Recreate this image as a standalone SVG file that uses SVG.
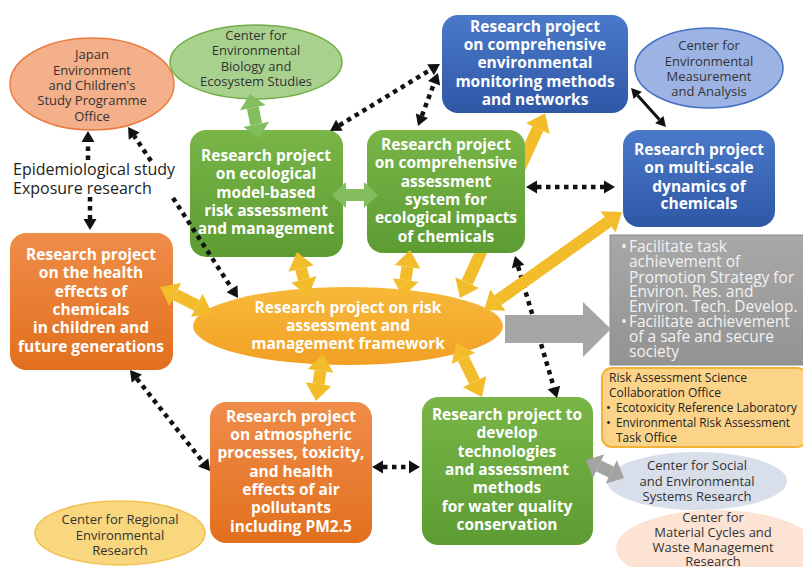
<svg xmlns="http://www.w3.org/2000/svg" width="803" height="567" viewBox="0 0 803 567">
<style>
.bt{fill:#fff;font-family:"Open Sans","Liberation Sans",sans-serif;font-weight:bold;font-size:15.5px;text-anchor:middle}
.et{fill:#333;font-family:"Open Sans","Liberation Sans",sans-serif;font-size:13px;text-anchor:middle}
.gt{fill:#f2f2f2;font-family:"Open Sans","Liberation Sans",sans-serif;font-size:15.5px}
.rt{fill:#222;font-family:"Open Sans","Liberation Sans",sans-serif;font-size:13px}
.lt{fill:#222;font-family:"Open Sans","Liberation Sans",sans-serif;font-size:16px}
.ya{stroke:#F3BC2B;stroke-width:12;fill:none;marker-start:url(#mY);marker-end:url(#mY)}
.ga{stroke:#83BD5E;stroke-width:12;fill:none;marker-start:url(#mG);marker-end:url(#mG)}
.gra{stroke:#A3A3A3;stroke-width:12;fill:none;marker-start:url(#mGr);marker-end:url(#mGr)}
.da{stroke:#111;stroke-width:4.5;stroke-dasharray:4.5 4.5;fill:none}
.d2{marker-start:url(#mD);marker-end:url(#mD)}
.d1{marker-end:url(#mD)}
</style>
<defs>
<linearGradient id="gGreen" x1="0" y1="0" x2="0" y2="1"><stop offset="0" stop-color="#79B547"/><stop offset="1" stop-color="#5D9C33"/></linearGradient>
<linearGradient id="gBlue" x1="0" y1="0" x2="0" y2="1"><stop offset="0" stop-color="#4B79C9"/><stop offset="1" stop-color="#2E58A6"/></linearGradient>
<linearGradient id="gOrange" x1="0" y1="0" x2="0" y2="1"><stop offset="0" stop-color="#EF8D49"/><stop offset="1" stop-color="#E26F1E"/></linearGradient>
<linearGradient id="gCentre" x1="0" y1="0" x2="0" y2="1"><stop offset="0" stop-color="#F7B93A"/><stop offset="1" stop-color="#F2A025"/></linearGradient>
<linearGradient id="gGray" x1="0" y1="0" x2="0" y2="1"><stop offset="0" stop-color="#A8A8A8"/><stop offset="1" stop-color="#939393"/></linearGradient>
<marker id="mY" markerUnits="userSpaceOnUse" markerWidth="40" markerHeight="40" refX="0" refY="0" viewBox="-20 -20 40 40" orient="auto-start-reverse" overflow="visible"><path d="M0,-13 L17,0 L0,13 Z" fill="#F3BC2B"/></marker>
<marker id="mG" markerUnits="userSpaceOnUse" markerWidth="40" markerHeight="40" refX="0" refY="0" viewBox="-20 -20 40 40" orient="auto-start-reverse" overflow="visible"><path d="M0,-13 L14,0 L0,13 Z" fill="#83BD5E"/></marker>
<marker id="mGr" markerUnits="userSpaceOnUse" markerWidth="40" markerHeight="40" refX="0" refY="0" viewBox="-20 -20 40 40" orient="auto-start-reverse" overflow="visible"><path d="M0,-13 L14,0 L0,13 Z" fill="#A3A3A3"/></marker>
<marker id="mB" markerUnits="userSpaceOnUse" markerWidth="30" markerHeight="30" refX="0" refY="0" viewBox="-15 -15 30 30" orient="auto-start-reverse" overflow="visible"><path d="M0,-5.5 L10,0 L0,5.5 Z" fill="#111"/></marker>
<marker id="mD" markerUnits="userSpaceOnUse" markerWidth="30" markerHeight="30" refX="0" refY="0" viewBox="-15 -15 30 30" orient="auto-start-reverse" overflow="visible"><path d="M0,-6.5 L11,0 L0,6.5 Z" fill="#111"/></marker>
<clipPath id="noAssess"><path clip-rule="evenodd" d="M0,0H803V567H0Z M383,130H509a16,16 0 0 1 16,16V237a16,16 0 0 1 -16,16H383a16,16 0 0 1 -16,-16V146a16,16 0 0 1 16,-16Z"/></clipPath>
</defs>
<rect width="803" height="567" fill="#fff"/>

<g id="japan-office">
<ellipse cx="92" cy="84" rx="82" ry="46" fill="#F4B08A" stroke="#EB7E3F" stroke-width="1.5"/>
<text class="et"><tspan x="92" y="59">Japan</tspan><tspan x="92" y="75">Environment</tspan><tspan x="92" y="90">and Children's</tspan><tspan x="92" y="105">Study Programme</tspan><tspan x="92" y="121">Office</tspan></text>
</g>
<g id="center-bio">
<ellipse cx="256" cy="62" rx="86" ry="37" fill="#A9D18E" stroke="#70AD47" stroke-width="1.5"/>
<text class="et"><tspan x="256" y="40">Center for</tspan><tspan x="256" y="55">Environmental</tspan><tspan x="256" y="71">Biology and</tspan><tspan x="256" y="86">Ecosystem Studies</tspan></text>
</g>
<g id="center-measurement">
<ellipse cx="709" cy="68" rx="74" ry="40" fill="#9DB3E3" stroke="#4472C4" stroke-width="1.5"/>
<text class="et"><tspan x="709" y="50">Center for</tspan><tspan x="709" y="66">Environmental</tspan><tspan x="709" y="81">Measurement</tspan><tspan x="709" y="96">and Analysis</tspan></text>
</g>
<g id="epi-label">
<text class="lt"><tspan x="13" y="175">Epidemiological study</tspan><tspan x="13" y="194">Exposure research</tspan></text>
</g>
<g id="ecological">
<rect x="190" y="130" width="153" height="127" rx="16" fill="url(#gGreen)"/>
<text class="bt"><tspan x="266" y="161">Research project</tspan><tspan x="266" y="179">on ecological</tspan><tspan x="266" y="198">model-based</tspan><tspan x="266" y="216">risk assessment</tspan><tspan x="266" y="234">and management</tspan></text>
</g>
<g id="assessment-system">
<rect x="367" y="130" width="158" height="123" rx="16" fill="url(#gGreen)"/>
<text class="bt"><tspan x="446" y="150">Research project</tspan><tspan x="446" y="168">on comprehensive</tspan><tspan x="446" y="187">assessment</tspan><tspan x="446" y="205">system for</tspan><tspan x="446" y="223">ecological impacts</tspan><tspan x="446" y="242">of chemicals</tspan></text>
</g>
<g id="monitoring">
<rect x="442" y="15" width="186" height="98" rx="16" fill="url(#gBlue)"/>
<text class="bt"><tspan x="535" y="32">Research project</tspan><tspan x="535" y="50">on comprehensive</tspan><tspan x="535" y="68">environmental</tspan><tspan x="535" y="87">monitoring methods</tspan><tspan x="535" y="105">and networks</tspan></text>
</g>
<g id="multi-scale">
<rect x="623" y="130" width="152" height="97" rx="16" fill="url(#gBlue)"/>
<text class="bt"><tspan x="699" y="155">Research project</tspan><tspan x="699" y="173">on multi-scale</tspan><tspan x="699" y="192">dynamics of</tspan><tspan x="699" y="209">chemicals</tspan></text>
</g>
<g id="goals">
<rect x="610" y="235" width="194" height="130" fill="url(#gGray)" stroke="#8C8C8C" stroke-width="1"/>
<text class="gt"><tspan x="621" y="252">•</tspan><tspan x="629" y="252">Facilitate task</tspan><tspan x="629" y="267">achievement of</tspan><tspan x="629" y="283">Promotion Strategy for</tspan><tspan x="629" y="297">Environ. Res. and</tspan><tspan x="629" y="312">Environ. Tech. Develop.</tspan><tspan x="621" y="327">•</tspan><tspan x="629" y="327">Facilitate achievement</tspan><tspan x="629" y="342">of a safe and secure</tspan><tspan x="629" y="357">society</tspan></text>
</g>
<g id="health">
<rect x="10" y="233" width="163" height="137" rx="16" fill="url(#gOrange)"/>
<text class="bt"><tspan x="91" y="260">Research project</tspan><tspan x="91" y="278">on the health</tspan><tspan x="91" y="297">effects of</tspan><tspan x="91" y="315">chemicals</tspan><tspan x="91" y="333">in children and</tspan><tspan x="91" y="352">future generations</tspan></text>
</g>
<g id="framework">
<ellipse cx="348" cy="326" rx="155" ry="39" fill="url(#gCentre)"/>
<text class="bt"><tspan x="348" y="313">Research project on risk</tspan><tspan x="348" y="331">assessment and</tspan><tspan x="348" y="349">management framework</tspan></text>
</g>
<g id="atmospheric">
<rect x="210" y="402" width="162" height="141" rx="16" fill="url(#gOrange)"/>
<text class="bt"><tspan x="291" y="422">Research project</tspan><tspan x="291" y="440">on atmospheric</tspan><tspan x="291" y="458">processes, toxicity,</tspan><tspan x="291" y="477">and health</tspan><tspan x="291" y="495">effects of air</tspan><tspan x="291" y="513">pollutants</tspan><tspan x="291" y="532">including PM2.5</tspan></text>
</g>
<g id="water">
<rect x="422" y="397" width="171" height="148" rx="16" fill="url(#gGreen)"/>
<text class="bt"><tspan x="507" y="420">Research project to</tspan><tspan x="507" y="438">develop</tspan><tspan x="507" y="457">technologies</tspan><tspan x="507" y="475">and assessment</tspan><tspan x="507" y="493">methods</tspan><tspan x="507" y="512">for water quality</tspan><tspan x="507" y="530">conservation</tspan></text>
</g>
<g id="risk-office">
<rect x="602" y="368" width="205" height="79" rx="10" fill="#FBD48A" stroke="#F2B236" stroke-width="2"/>
<text class="rt"><tspan x="609" y="382" textLength="138" lengthAdjust="spacingAndGlyphs">Risk Assessment Science</tspan><tspan x="609" y="397" textLength="112" lengthAdjust="spacingAndGlyphs">Collaboration Office</tspan><tspan x="606" y="412">•</tspan><tspan x="616" y="412" textLength="181" lengthAdjust="spacingAndGlyphs">Ecotoxicity Reference Laboratory</tspan><tspan x="606" y="427">•</tspan><tspan x="616" y="427" textLength="174" lengthAdjust="spacingAndGlyphs">Environmental Risk Assessment</tspan><tspan x="616" y="442" textLength="61" lengthAdjust="spacingAndGlyphs">Task Office</tspan></text>
</g>
<g id="center-social">
<ellipse cx="697" cy="481" rx="90" ry="29" fill="#D8DEEA"/>
<text class="et"><tspan x="697" y="470">Center for Social</tspan><tspan x="697" y="486">and Environmental</tspan><tspan x="697" y="501">Systems Research</tspan></text>
</g>
<g id="center-material">
<ellipse cx="716" cy="548" rx="100" ry="38" fill="#FCE3D4"/>
<text class="et"><tspan x="713" y="522">Center for</tspan><tspan x="713" y="537">Material Cycles and</tspan><tspan x="713" y="552">Waste Management</tspan><tspan x="713" y="566">Research</tspan></text>
</g>
<g id="center-regional">
<ellipse cx="120" cy="533" rx="85" ry="32" fill="#F9D77E" stroke="#F2C14E" stroke-width="1.5"/>
<text class="et"><tspan x="120" y="524">Center for Regional</tspan><tspan x="120" y="540">Environmental</tspan><tspan x="120" y="555">Research</tspan></text>
</g>

<g id="connectors">
<g id="dotted">
<line class="da d1" x1="88" y1="160" x2="88" y2="142"/>
<line class="da d1" x1="90" y1="197" x2="90" y2="219"/>
<line class="da d1" x1="151" y1="161" x2="134.2" y2="136.1"/>
<line class="da d1" x1="173" y1="198" x2="232" y2="288.8"/>
<line class="da d2" x1="339.4" y1="125.3" x2="430.6" y2="69.7"/>
<line class="da d2" x1="421.9" y1="115.7" x2="434.1" y2="83.3"/>
<line class="da d2" x1="537" y1="187" x2="604" y2="187"/>
<line class="da d2" x1="518.1" y1="266.5" x2="553.9" y2="387.5"/>
<line class="da d2" x1="136.8" y1="378.6" x2="203.2" y2="462.4"/>
<line class="da d2" x1="383" y1="467" x2="409" y2="467"/>
</g>
<g id="yellow">
<line class="ya" x1="301.1" y1="268.5" x2="303.9" y2="279.5"/>
<line class="ya" x1="407.5" y1="266.8" x2="405.5" y2="280.2"/>
<line class="ya" x1="175.2" y1="294.6" x2="196.8" y2="305.4"/>
<line class="ya" x1="320.5" y1="370.8" x2="318.5" y2="384.2"/>
<line class="ya" x1="463.4" y1="358.3" x2="474.6" y2="381.7"/>
<line class="ya" x1="467.1" y1="282.6" x2="537.9" y2="128.6" clip-path="url(#noAssess)"/>
<line class="ya" x1="497.9" y1="300.2" x2="608.1" y2="221.8"/>
</g>
<g id="green">
<line class="ga" x1="252.8" y1="107.7" x2="256.2" y2="124.3"/>
<line class="ga" x1="346" y1="195" x2="364" y2="195"/>
</g>
<g id="gray">
<path d="M505,315 H583 V302 L611,329 L583,357 V343 H505 Z" fill="#A6A6A6"/>
<line class="gra" x1="598.7" y1="466" x2="611.3" y2="472"/>
</g>
<line id="measure-link" x1="637.7" y1="95.4" x2="659.3" y2="119.6" stroke="#111" stroke-width="3" marker-start="url(#mB)" marker-end="url(#mB)"/>
</g>
</svg>
